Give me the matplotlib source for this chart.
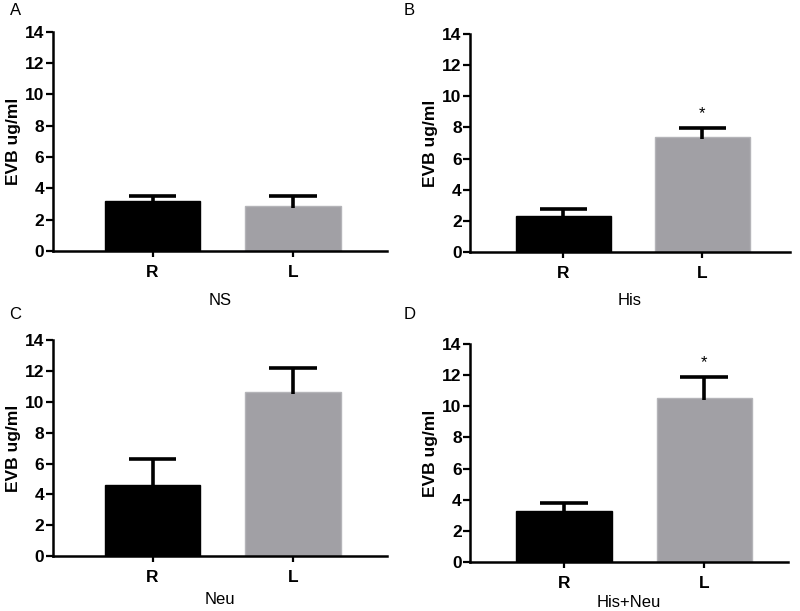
import matplotlib
matplotlib.use("Agg")
import matplotlib.pyplot as plt

plt.rcParams['font.family'] = ['Liberation Sans', 'DejaVu Sans']

# ---- data ----
sides = ["R", "L"]
groups = ["NS", "His", "Neu", "His+Neu"]
panel_tags = ["A", "B", "C", "D"]
means = [
    [3.22, 2.88],
    [2.27, 7.40],
    [4.60, 10.65],
    [3.27, 10.55],
]
sem = [
    [0.30, 0.62],
    [0.50, 0.55],
    [1.70, 1.55],
    [0.52, 1.35],
]
stars = [
    [False, False],
    [False, True],
    [False, False],
    [False, True],
]

bar_colors = ["#000000", "#a1a0a5"]
edge_colors = ["#000000", "#b4b4b8"]

fig = plt.figure(figsize=(8, 6.11), dpi=100)

# axes rects in figure fraction (left, bottom, width, height)
rects = [
    (0.066, 0.589, 0.418, 0.359),
    (0.5875, 0.588, 0.400, 0.356),
    (0.066, 0.090, 0.418, 0.353),
    (0.5875, 0.080, 0.398, 0.357),
]
xlims = [(-0.71, 1.67), (-0.67, 1.63), (-0.71, 1.67), (-0.67, 1.60)]
xlabel_pads = [9, 9, 5, 3]
cap = 0.17

for i in range(4):
    ax = fig.add_axes(rects[i])
    x = list(range(len(sides)))
    ax.bar(x, means[i], width=0.68, color=bar_colors,
           edgecolor=edge_colors, linewidth=1.0, zorder=2)
    # upper error bars only (GraphPad style)
    tops = [m + e for m, e in zip(means[i], sem[i])]
    ax.vlines(x, [m - 0.15 for m in means[i]], tops, colors="black",
              linewidth=2.6, zorder=3)
    ax.hlines(tops, [xx - cap for xx in x], [xx + cap for xx in x],
              colors="black", linewidth=2.6, zorder=3)
    for j in x:
        if stars[i][j]:
            ax.text(j, tops[j] + 0.45, "*", ha="center",
                    va="bottom", fontsize=12)

    ax.set_xlim(*xlims[i])
    ax.set_ylim(0, 14)
    ax.set_yticks(range(0, 15, 2))
    ax.set_xticks(x)
    ax.set_xticklabels(sides, fontweight="bold", fontsize=12.5)
    for lab in ax.get_yticklabels():
        lab.set_fontweight("bold")
        lab.set_fontsize(12.5)
    ax.tick_params(axis="y", length=5, width=1.6, pad=1)
    ax.tick_params(axis="x", length=4, width=1.6, pad=6)
    ax.spines["top"].set_visible(False)
    ax.spines["right"].set_visible(False)
    ax.spines["left"].set_linewidth(1.8)
    ax.spines["bottom"].set_linewidth(1.8)
    ax.set_ylabel("EVB ug/ml", fontweight="bold", fontsize=12.5, labelpad=3)
    ax.set_xlabel(groups[i], fontsize=12, labelpad=xlabel_pads[i])

tag_pos = [(0.012, 0.995), (0.505, 0.995), (0.012, 0.497), (0.505, 0.497)]
for tag, (tx, ty) in zip(panel_tags, tag_pos):
    fig.text(tx, ty, tag, fontsize=12, va="top", ha="left")

fig.savefig("out.png", dpi=100)
plt.close(fig)
